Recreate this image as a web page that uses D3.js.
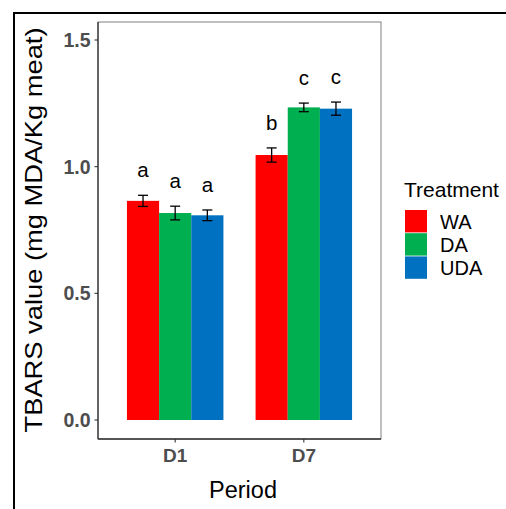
<!DOCTYPE html>
<html><head><meta charset="utf-8">
<script src="https://cdn.jsdelivr.net/npm/d3@7"></script>
<style>body{margin:0;background:#fff}svg{display:block}text{font-family:Arial,"Liberation Sans",sans-serif}</style>
</head><body>
<script>
const periods = ["D1", "D7"];
const treatments = ["WA", "DA", "UDA"];
const colors = ["#FF0000", "#00B050", "#0070C0"];
const meanD1 = [0.865, 0.817, 0.808];
const meanD7 = [1.046, 1.234, 1.229];
const seD1 = [0.022, 0.027, 0.021];
const seD7 = [0.028, 0.017, 0.026];
const lettersD1 = ["a", "a", "a"];
const lettersD7 = ["b", "c", "c"];
const yTicks = [0.0, 0.5, 1.0, 1.5];

const rows = [];
periods.forEach((p, i) => {
  const m = i === 0 ? meanD1 : meanD7, s = i === 0 ? seD1 : seD7, l = i === 0 ? lettersD1 : lettersD7;
  treatments.forEach((t, j) => rows.push({period: p, trt: t, v: m[j], se: s[j], letter: l[j], color: colors[j]}));
});

const W = 506, H = 509;
const svg = d3.select("body").append("svg").attr("width", W).attr("height", H);

// outer frame lines
svg.append("line").attr("x1", 13).attr("x2", W).attr("y1", 13).attr("y2", 13).attr("stroke", "#000").attr("stroke-width", 2);
svg.append("line").attr("x1", 14).attr("x2", 14).attr("y1", 12).attr("y2", H).attr("stroke", "#000").attr("stroke-width", 2);

const pL = 98, pR = 381, pT = 22, pB = 439;
const y = d3.scaleLinear().domain([0, 1.5]).range([420, 40]);
const x = d3.scalePoint().domain(periods).range([pL, pR]).padding(0.6);
const gw = 0.75 * x.step();
const xt = d3.scaleBand().domain(treatments).range([0, gw]);
const cx = p => x(p);

svg.append("rect").attr("x", pL).attr("y", pT).attr("width", pR - pL).attr("height", pB - pT)
  .attr("fill", "#fff").attr("stroke", "#808080").attr("stroke-width", 1);

// bars
svg.selectAll("rect.bar").data(rows).join("rect").attr("class", "bar")
  .attr("x", d => cx(d.period) - gw / 2 + xt(d.trt))
  .attr("width", xt.bandwidth())
  .attr("y", d => y(d.v)).attr("height", d => y(0) - y(d.v))
  .attr("fill", d => d.color);

// error bars
const eb = svg.append("g").attr("stroke", "#000").attr("stroke-width", 1.3);
rows.forEach(d => {
  const bx = cx(d.period) - gw / 2 + xt(d.trt) + xt.bandwidth() / 2;
  eb.append("line").attr("x1", bx).attr("x2", bx).attr("y1", y(d.v - d.se)).attr("y2", y(d.v + d.se));
  eb.append("line").attr("x1", bx - 5).attr("x2", bx + 5).attr("y1", y(d.v - d.se)).attr("y2", y(d.v - d.se));
  eb.append("line").attr("x1", bx - 5).attr("x2", bx + 5).attr("y1", y(d.v + d.se)).attr("y2", y(d.v + d.se));
  svg.append("text").attr("x", bx).attr("y", y(d.v + d.se) - 18).attr("text-anchor", "middle")
    .attr("font-size", 20.5).attr("fill", "#000").text(d.letter);
});

// axes lines
svg.append("line").attr("x1", pL).attr("x2", pL).attr("y1", pT).attr("y2", pB).attr("stroke", "#333").attr("stroke-width", 1.3);
svg.append("line").attr("x1", pL).attr("x2", pR).attr("y1", pB).attr("y2", pB).attr("stroke", "#333").attr("stroke-width", 1.3);

// y ticks
yTicks.forEach(t => {
  svg.append("line").attr("x1", pL - 3.5).attr("x2", pL).attr("y1", y(t)).attr("y2", y(t)).attr("stroke", "#333").attr("stroke-width", 1.1);
  svg.append("text").attr("x", 90.5).attr("y", y(t) + 7).attr("text-anchor", "end")
    .attr("font-size", 19.5).attr("font-weight", "bold").attr("fill", "#4d4d4d").text(d3.format(".1f")(t));
});
// x ticks
periods.forEach(p => {
  svg.append("line").attr("x1", cx(p)).attr("x2", cx(p)).attr("y1", pB).attr("y2", pB + 3.5).attr("stroke", "#333").attr("stroke-width", 1.1);
  svg.append("text").attr("x", cx(p)).attr("y", 462).attr("text-anchor", "middle")
    .attr("font-size", 19).attr("font-weight", "bold").attr("fill", "#4d4d4d").text(p);
});

// axis titles
svg.append("text").attr("x", 243).attr("y", 498).attr("text-anchor", "middle").attr("font-size", 23.5).attr("fill", "#000").text("Period");
svg.append("text").attr("transform", "translate(42,230) rotate(-90)").attr("text-anchor", "middle")
  .attr("font-size", 24).attr("fill", "#000")
  .attr("textLength", 405).attr("lengthAdjust", "spacingAndGlyphs")
  .text("TBARS value (mg MDA/Kg meat)");

// legend
svg.append("text").attr("x", 404).attr("y", 197).attr("font-size", 21).attr("fill", "#000").text("Treatment");
treatments.forEach((t, j) => {
  const ky = 210 + j * 23.2;
  svg.append("rect").attr("x", 405).attr("y", ky).attr("width", 22).attr("height", 22.4).attr("fill", colors[j]);
  svg.append("text").attr("x", 440).attr("y", ky + 18.5).attr("font-size", 20).attr("fill", "#000").text(t);
});
</script>
</body></html>
